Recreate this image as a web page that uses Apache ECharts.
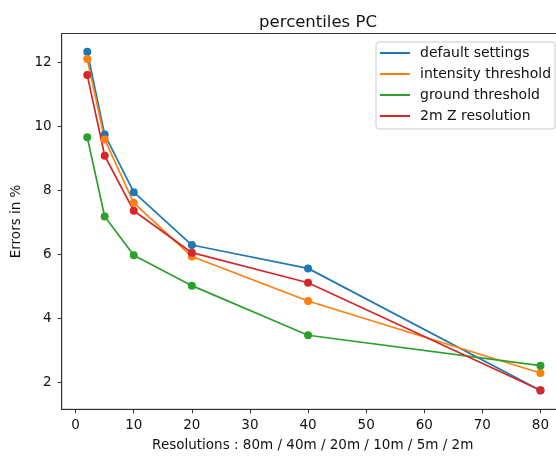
<!DOCTYPE html>
<html>
<head>
<meta charset="utf-8">
<script src="https://cdn.jsdelivr.net/npm/echarts@6/dist/echarts.min.js"></script>
<style>
  html, body { margin: 0; padding: 0; background: #fff; }
  #chart { width: 556px; height: 459px; }
</style>
</head>
<body>
<div id="chart"></div>
<script>
// Resolution steps on the x axis
const resolutions = [2, 5, 10, 20, 40, 80];

// Percentile error (%) per configuration
const defaultSettings    = [12.33, 9.74, 7.94, 6.29, 5.56, 1.74];
const intensityThreshold = [12.10, 9.59, 7.61, 5.93, 4.54, 2.29];
const groundThreshold    = [9.66, 7.18, 5.97, 5.02, 3.47, 2.52];
const zResolution2m      = [11.60, 9.08, 7.36, 6.05, 5.11, 1.75];

const xTicks = [0, 10, 20, 30, 40, 50, 60, 70, 80];
const yTicks = [2, 4, 6, 8, 10, 12];

const seriesNames = ['default settings', 'intensity threshold', 'ground threshold', '2m Z resolution'];
const seriesValues = [defaultSettings, intensityThreshold, groundThreshold, zResolution2m];
const colors = ['#1f77b4', '#ff7f0e', '#2ca02c', '#d62728'];

const font = 'DejaVu Sans';

const chart = echarts.init(document.getElementById('chart'), null, { renderer: 'canvas' });

const series = seriesNames.map((name, i) => ({
  name: name,
  type: 'line',
  data: resolutions.map((x, j) => [x, seriesValues[i][j]]),
  symbol: 'circle',
  symbolSize: 8,
  showSymbol: true,
  animation: false,
  lineStyle: { width: 1.7, color: colors[i] },
  itemStyle: { color: colors[i] },
  emphasis: { disabled: true }
}));

chart.setOption({
  backgroundColor: '#fff',
  animation: false,
  title: {
    text: 'percentiles PC',
    left: 313,
    top: 9,
    textAlign: 'center',
    textStyle: { fontFamily: font, fontSize: 16.5, fontWeight: 'normal', color: '#111' }
  },
  grid: {
    left: 61.7,
    top: 33.5,
    width: 502,
    height: 375.8,
    outerBoundsMode: 'none',
    containLabel: false,
    show: true,
    borderColor: '#333',
    borderWidth: 1,
    backgroundColor: 'transparent'
  },
  legend: {
    orient: 'vertical',
    left: 376,
    top: 42,
    icon: 'rect',
    itemWidth: 30,
    itemHeight: 2,
    itemGap: 5,
    padding: [3, 4, 5, 4],
    backgroundColor: '#fff',
    borderColor: '#ccc',
    borderWidth: 1,
    borderRadius: 3,
    data: seriesNames,
    textStyle: {
      fontFamily: font,
      fontSize: 14,
      color: '#111',
      lineHeight: 16,
      padding: [0, 0, 0, 5]
    }
  },
  xAxis: {
    type: 'value',
    min: -2.4,
    max: 84,
    name: 'Resolutions : 80m / 40m / 20m / 10m / 5m / 2m',
    nameLocation: 'middle',
    nameGap: 29,
    nameTextStyle: { fontFamily: font, fontSize: 13.5, color: '#111' },
    axisLine: { show: true, onZero: false, lineStyle: { color: '#333', width: 1 } },
    axisTick: { show: true, length: 4, lineStyle: { color: '#333' }, customValues: xTicks },
    axisLabel: { fontFamily: font, fontSize: 13.5, color: '#111', margin: 9, customValues: xTicks },
    splitLine: { show: false }
  },
  yAxis: {
    type: 'value',
    min: 1.156,
    max: 12.9,
    name: 'Errors in %',
    nameLocation: 'middle',
    nameGap: 31,
    nameTextStyle: { fontFamily: font, fontSize: 13.5, color: '#111' },
    axisLine: { show: true, onZero: false, lineStyle: { color: '#333', width: 1 } },
    axisTick: { show: true, length: 4, lineStyle: { color: '#333' }, customValues: yTicks },
    axisLabel: { fontFamily: font, fontSize: 13.5, color: '#111', margin: 10, customValues: yTicks },
    splitLine: { show: false }
  },
  series: series
});
</script>
</body>
</html>
